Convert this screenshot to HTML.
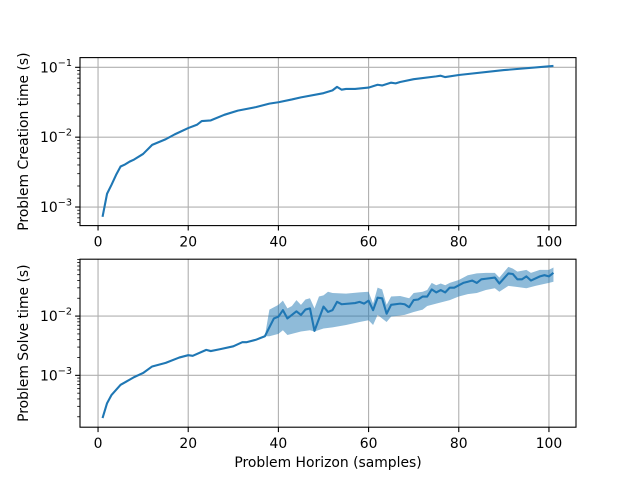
<!DOCTYPE html>
<html><head><meta charset="utf-8"><style>
body{margin:0;background:#fff}
svg{display:block;font-family:"DejaVu Sans","Liberation Sans",sans-serif}
</style></head><body>
<svg id="chart" width="640" height="480" viewBox="0 0 640 480"></svg>
<script>
const xTicks=[0,20,40,60,80,100];
const createX=[1,2,3,4,5,6,7,8,10,12,15,17,20,22,23,25,28,31,35,38,40,43,45,50,52,53,54,55,57,60,62,63,65,66,67,70,75,76,77,80,90,101];
const createLog=[-3.14,-2.81,-2.68,-2.54,-2.42,-2.39,-2.35,-2.32,-2.24,-2.11,-2.03,-1.96,-1.87,-1.82,-1.77,-1.76,-1.68,-1.62,-1.57,-1.52,-1.50,-1.46,-1.43,-1.37,-1.33,-1.28,-1.32,-1.31,-1.31,-1.29,-1.25,-1.26,-1.22,-1.23,-1.21,-1.17,-1.13,-1.12,-1.14,-1.11,-1.04,-0.98];
const solveX=[1,2,3,5,8,10,12,15,18,20,21,24,25,27,30,32,33,35,36,37,39,40,41,42,44,45,46,47,48,50,51,52,53,54,57,58,59,60,61,62,63,64,65,67,68,69,70,71,72,73,74,75,76,77,78,79,80,81,82,83,84,85,86,88,89,91,92,93,94,95,96,98,99,100,101];
const solveLog=[-3.72,-3.47,-3.33,-3.16,-3.03,-2.96,-2.85,-2.79,-2.70,-2.66,-2.67,-2.57,-2.59,-2.56,-2.51,-2.44,-2.44,-2.40,-2.37,-2.34,-2.04,-2.01,-1.90,-2.04,-1.92,-1.98,-1.89,-1.87,-2.25,-1.84,-1.93,-1.90,-1.76,-1.80,-1.78,-1.76,-1.79,-1.74,-1.90,-1.69,-1.70,-1.96,-1.81,-1.79,-1.80,-1.85,-1.73,-1.72,-1.67,-1.67,-1.55,-1.60,-1.56,-1.60,-1.52,-1.52,-1.48,-1.44,-1.42,-1.40,-1.44,-1.38,-1.37,-1.35,-1.45,-1.28,-1.29,-1.38,-1.38,-1.33,-1.40,-1.33,-1.31,-1.33,-1.27];
const upperX=[37,38,39,40,41,42,43,44,45,46,47,48,49,50,51,52,55,58,60,61,62,63,64,65,67,69,70,72,73,74,75,76,77,78,80,82,84,86,88,89,91,92,93,95,96,98,100,101];
const upperLog=[-2.34,-1.89,-1.85,-1.81,-1.74,-1.87,-1.83,-1.73,-1.81,-1.72,-1.70,-1.87,-1.67,-1.65,-1.59,-1.61,-1.62,-1.60,-1.59,-1.79,-1.52,-1.55,-1.81,-1.67,-1.66,-1.70,-1.61,-1.59,-1.56,-1.44,-1.48,-1.45,-1.48,-1.44,-1.39,-1.31,-1.28,-1.27,-1.27,-1.35,-1.17,-1.20,-1.25,-1.22,-1.27,-1.22,-1.22,-1.18];
const lowerX=[37,38,40,41,42,45,47,48,50,52,55,58,60,61,62,64,65,68,70,72,73,75,78,80,82,84,86,88,89,91,93,95,97,100,101];
const lowerLog=[-2.34,-2.34,-2.30,-2.24,-2.32,-2.26,-2.24,-2.26,-2.21,-2.19,-2.15,-2.10,-2.07,-2.15,-1.98,-2.10,-2.01,-1.98,-1.93,-1.89,-1.83,-1.79,-1.73,-1.67,-1.63,-1.61,-1.56,-1.53,-1.59,-1.49,-1.51,-1.53,-1.49,-1.44,-1.42];
const topDecades=[-3,-2,-1];
const botDecades=[-3,-2];

const NS="http://www.w3.org/2000/svg";
const svg=document.getElementById('chart');
function mk(tag,attrs,parent){const e=document.createElementNS(NS,tag);for(const k in attrs)e.setAttribute(k,attrs[k]);(parent||svg).appendChild(e);return e;}
const L=80,R=576,X0=-4,X1=106;
const FS=13.9;
const sx=x=>L+(x-X0)/(X1-X0)*(R-L);
function panel(name,top,bot,ymin,ymax,decades,ylabel,showXLabel){
  const g=mk('g',{});
  
  
  const sy=v=>bot-(v-ymin)/(ymax-ymin)*(bot-top);
  xTicks.forEach(t=>{const l=mk('line',{x1:sx(t),x2:sx(t),y1:top,y2:bot,stroke:'#b0b0b0','stroke-width':1.1},g);
    });
  decades.forEach(d=>{const l=mk('line',{x1:L,x2:R,y1:sy(d),y2:sy(d),stroke:'#b0b0b0','stroke-width':1.1},g);
    });
  for(let d=Math.floor(ymin);d<Math.ceil(ymax);d++){for(let k=2;k<10;k++){const v=d+Math.log10(k);if(v>ymin&&v<ymax){
    const l=mk('line',{x1:L-2.8,x2:L,y1:sy(v),y2:sy(v),stroke:'#000','stroke-width':0.8},g);
    }}}
  decades.forEach(d=>{const y=sy(d);
    const l=mk('line',{x1:L-4.9,x2:L,y1:y,y2:y,stroke:'#000','stroke-width':1.1},g);
    
    const t=mk('text',{x:L-8,y:y+5,'text-anchor':'end','font-size':FS,fill:'#000'},g);
    
    t.textContent='10';const s=mk('tspan',{'font-size':9.7,dy:-6.5},t);s.textContent='\u2212'+(-d);});
  xTicks.forEach(tv=>{const x=sx(tv);
    const l=mk('line',{x1:x,x2:x,y1:bot,y2:bot+4.9,stroke:'#000','stroke-width':1.1},g);
    
    const t=mk('text',{x:x,y:bot+21,'text-anchor':'middle','font-size':FS,fill:'#000'},g);
    
    t.textContent=tv;});
  const yl=mk('text',{x:0,y:0,transform:`translate(${L-52},${(top+bot)/2}) rotate(-90)`,'text-anchor':'middle','font-size':FS,fill:'#000'},g);
  
  yl.textContent=ylabel;
  if(showXLabel){const xl=mk('text',{x:(L+R)/2,y:bot+40,'text-anchor':'middle','font-size':FS,fill:'#000'},g);
    
    xl.textContent='Problem Horizon (samples)';}
  return {g,sy};
}
function clipRect(id,top,bot){const c=mk('clipPath',{id});mk('rect',{x:L,y:top,width:R-L,height:bot-top},c);}
const p1=panel('creation-time-panel',57.6,225.6,-3.266,-0.861,topDecades,'Problem Creation time (s)',false);
clipRect('c1',57.6,225.6);
const l1=mk('polyline',{points:createX.map((x,i)=>sx(x)+','+p1.sy(createLog[i])).join(' '),fill:'none',stroke:'#1f77b4','stroke-width':2.1,'stroke-linejoin':'round','clip-path':'url(#c1)'},p1.g);


const f1=mk('rect',{x:L,y:57.6,width:R-L,height:168,fill:'none',stroke:'#000','stroke-width':1.1},p1.g);


const p2=panel('solve-time-panel',259.2,427.2,-3.875,-1.04,botDecades,'Problem Solve time (s)',true);
clipRect('c2',259.2,427.2);
const bandPts=upperX.map((x,i)=>sx(x)+','+p2.sy(upperLog[i])).concat(lowerX.map((x,i)=>sx(x)+','+p2.sy(lowerLog[i])).reverse()).join(' ');
const band=mk('polygon',{points:bandPts,fill:'#1f77b4','fill-opacity':0.5,stroke:'none','clip-path':'url(#c2)'},p2.g);


const l2=mk('polyline',{points:solveX.map((x,i)=>sx(x)+','+p2.sy(solveLog[i])).join(' '),fill:'none',stroke:'#1f77b4','stroke-width':2.1,'stroke-linejoin':'round','clip-path':'url(#c2)'},p2.g);


const f2=mk('rect',{x:L,y:259.2,width:R-L,height:168,fill:'none',stroke:'#000','stroke-width':1.1},p2.g);


</script>
</body></html>
